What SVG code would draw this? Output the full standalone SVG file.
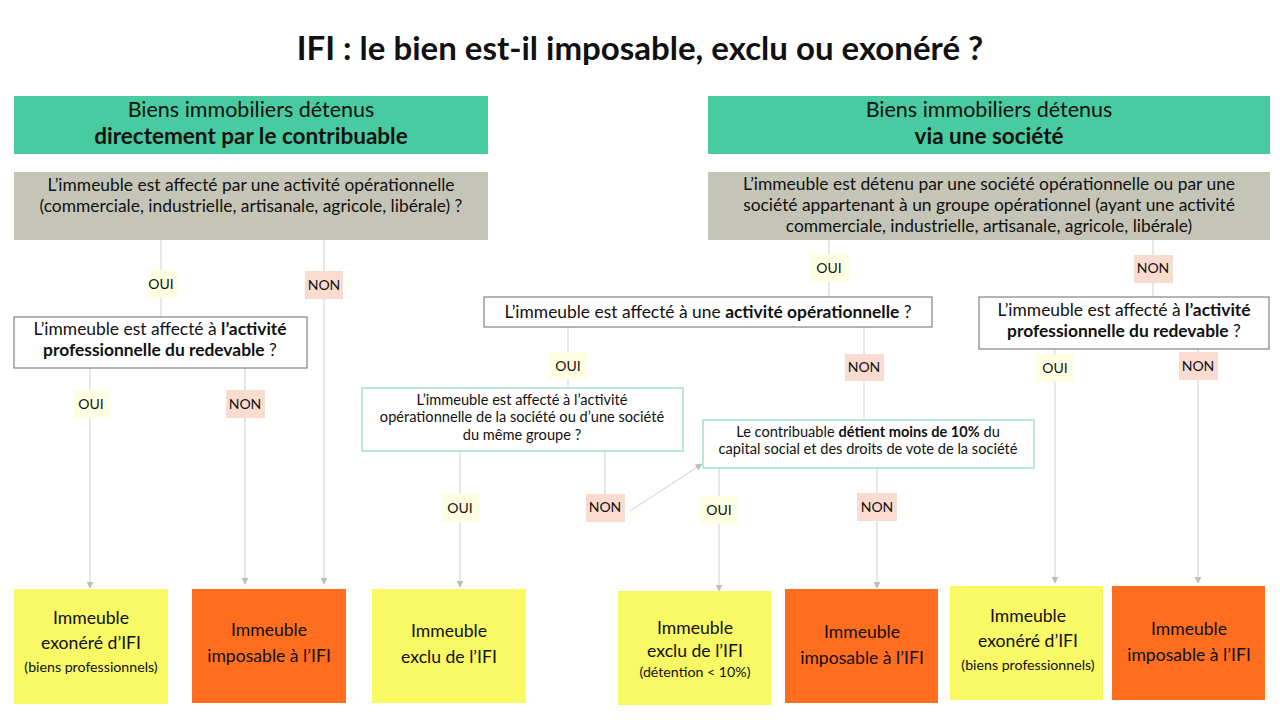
<svg xmlns="http://www.w3.org/2000/svg" width="1280" height="720" viewBox="0 0 1280 720">
<defs>
<marker id="arr" viewBox="0 0 10 10" refX="9" refY="5" markerWidth="7" markerHeight="7" orient="auto" markerUnits="userSpaceOnUse">
<path d="M0,0 L10,5 L0,10 z" fill="#bdbdbd"/>
</marker>
<style>
text{font-family:"Lato","Noto Sans",sans-serif;fill:#111;text-anchor:middle}
.title{font-size:33px;font-weight:700}
.hdr{fill:#48CBA0}
.gray{fill:#C5C5B7}
.h1{font-size:21.5px}
.h1b{font-size:22.5px;font-weight:700}
.b{font-weight:700}
.q{font-size:17.4px}
.qs{font-size:14.6px}
.qbox{fill:#fff;stroke:#6b6b6b;stroke-width:1}
.tbox{fill:#fff;stroke:#8fd9c2;stroke-width:1.2}
.yel{fill:#F9F865}
.ora{fill:#FF6E1F}
.res{font-size:17.6px}
.sm{font-size:14.2px}
.oui{fill:#FEFEE2}
.non{fill:#FADBD0}
.lbl{font-size:14px}
.ln{stroke:#cfcfcf;stroke-width:1;fill:none}
.la{stroke:#cfcfcf;stroke-width:1;fill:none;marker-end:url(#arr)}
</style>
</defs>
<rect width="1280" height="720" fill="#fff"/>
<text class="title" x="640" y="60">IFI : le bien est-il imposable, exclu ou exonéré ?</text>

<g id="connectors">
<line class="ln" x1="161" y1="240" x2="161" y2="317"/>
<line class="la" x1="324" y1="240" x2="324" y2="584"/>
<line class="la" x1="90" y1="368" x2="90" y2="588"/>
<line class="la" x1="245" y1="368" x2="245" y2="584"/>
<line class="ln" x1="829" y1="240" x2="829" y2="297"/>
<line class="ln" x1="1153" y1="240" x2="1153" y2="297"/>
<line class="ln" x1="568" y1="327" x2="568" y2="388"/>
<line class="ln" x1="864" y1="327" x2="864" y2="420"/>
<line class="la" x1="460" y1="451" x2="460" y2="587"/>
<line class="ln" x1="605" y1="451" x2="605" y2="494"/>
<line class="la" x1="630" y1="511" x2="702" y2="464"/>
<line class="la" x1="719" y1="468" x2="719" y2="591"/>
<line class="la" x1="877" y1="468" x2="877" y2="588"/>
<line class="la" x1="1055" y1="349" x2="1055" y2="583"/>
<line class="la" x1="1198" y1="349" x2="1198" y2="583"/>
</g>

<g id="hdr-left">
<rect class="hdr" x="14" y="96" width="474" height="58"/>
<text class="h1" x="251" y="117">Biens immobiliers détenus</text>
<text class="h1b" x="251" y="144">directement par le contribuable</text>
</g>
<g id="hdr-right">
<rect class="hdr" x="708" y="96" width="562" height="58"/>
<text class="h1" x="989" y="117">Biens immobiliers détenus</text>
<text class="h1b" x="989" y="144">via une société</text>
</g>

<g id="q-left-main">
<rect class="gray" x="14" y="172" width="474" height="68"/>
<text class="q" x="251" y="191">L’immeuble est affecté par une activité opérationnelle</text>
<text class="q" x="251" y="212">(commerciale, industrielle, artisanale, agricole, libérale) ?</text>
</g>
<g id="q-right-main">
<rect class="gray" x="708" y="172" width="562" height="68"/>
<text class="q" x="989" y="190">L’immeuble est détenu par une société opérationnelle ou par une</text>
<text class="q" x="989" y="211">société appartenant à un groupe opérationnel (ayant une activité</text>
<text class="q" x="989" y="232">commerciale, industrielle, artisanale, agricole, libérale)</text>
</g>

<g id="q-left-pro">
<rect class="qbox" x="14" y="317" width="293" height="51"/>
<text class="q" x="160" y="335">L’immeuble est affecté à <tspan class="b">l’activité</tspan></text>
<text class="q" x="160" y="356"><tspan class="b">professionnelle du redevable</tspan> ?</text>
</g>
<g id="q-mid-op">
<rect class="qbox" x="484" y="297" width="448" height="30"/>
<text class="q" x="708" y="318">L’immeuble est affecté à une <tspan class="b">activité opérationnelle</tspan> ?</text>
</g>
<g id="q-right-pro">
<rect class="qbox" x="979" y="297" width="290" height="52"/>
<text class="q" x="1124" y="316">L’immeuble est affecté à <tspan class="b">l’activité</tspan></text>
<text class="q" x="1124" y="337"><tspan class="b">professionnelle du redevable</tspan> ?</text>
</g>
<g id="q-group">
<rect class="tbox" x="362" y="388" width="321" height="63"/>
<text class="qs" x="522" y="405">L’immeuble est affecté à l’activité</text>
<text class="qs" x="522" y="422">opérationnelle de la société ou d’une société</text>
<text class="qs" x="522" y="440">du même groupe ?</text>
</g>
<g id="q-10">
<rect class="tbox" x="703" y="420" width="331" height="48"/>
<text class="qs" x="868" y="437">Le contribuable <tspan class="b">détient moins de 10%</tspan> du</text>
<text class="qs" x="868" y="454">capital social et des droits de vote de la société</text>
</g>

<g id="labels">
<rect class="oui" x="147" y="270" width="30" height="28"/><text class="lbl" x="161" y="289">OUI</text>
<rect class="non" x="305" y="271" width="38" height="28"/><text class="lbl" x="324" y="290">NON</text>
<rect class="oui" x="73" y="390" width="36" height="28"/><text class="lbl" x="91" y="409">OUI</text>
<rect class="non" x="226" y="390" width="39" height="28"/><text class="lbl" x="245" y="409">NON</text>
<rect class="oui" x="810" y="254" width="39" height="28"/><text class="lbl" x="829" y="273">OUI</text>
<rect class="non" x="1134" y="255" width="39" height="28"/><text class="lbl" x="1153" y="273">NON</text>
<rect class="oui" x="549" y="352" width="38" height="27"/><text class="lbl" x="568" y="371">OUI</text>
<rect class="non" x="845" y="354" width="39" height="27"/><text class="lbl" x="864" y="372">NON</text>
<rect class="oui" x="1036" y="354" width="38" height="28"/><text class="lbl" x="1055" y="373">OUI</text>
<rect class="non" x="1179" y="352" width="39" height="28"/><text class="lbl" x="1198" y="371">NON</text>
<rect class="oui" x="441" y="494" width="38" height="28"/><text class="lbl" x="460" y="513">OUI</text>
<rect class="non" x="586" y="494" width="39" height="28"/><text class="lbl" x="605" y="512">NON</text>
<rect class="oui" x="700" y="496" width="38" height="28"/><text class="lbl" x="719" y="515">OUI</text>
<rect class="non" x="857" y="493" width="40" height="28"/><text class="lbl" x="877" y="512">NON</text>
</g>

<g id="r1">
<rect class="yel" x="14" y="589" width="154" height="115"/>
<text class="res" x="91" y="624">Immeuble</text>
<text class="res" x="91" y="649">exonéré d’IFI</text>
<text class="sm" x="91" y="672">(biens professionnels)</text>
</g>
<g id="r2">
<rect class="ora" x="192" y="589" width="154" height="114"/>
<text class="res" x="269" y="636">Immeuble</text>
<text class="res" x="269" y="662">imposable à l’IFI</text>
</g>
<g id="r3">
<rect class="yel" x="372" y="589" width="154" height="114"/>
<text class="res" x="449" y="637">Immeuble</text>
<text class="res" x="449" y="663">exclu de l’IFI</text>
</g>
<g id="r4">
<rect class="yel" x="618" y="591" width="153" height="114"/>
<text class="res" x="695" y="634">Immeuble</text>
<text class="res" x="695" y="657">exclu de l’IFI</text>
<text class="sm" x="695" y="677">(détention &lt; 10%)</text>
</g>
<g id="r5">
<rect class="ora" x="785" y="589" width="153" height="114"/>
<text class="res" x="862" y="638">Immeuble</text>
<text class="res" x="862" y="664">imposable à l’IFI</text>
</g>
<g id="r6">
<rect class="yel" x="950" y="586" width="153" height="114"/>
<text class="res" x="1028" y="622">Immeuble</text>
<text class="res" x="1028" y="647">exonéré d’IFI</text>
<text class="sm" x="1028" y="670">(biens professionnels)</text>
</g>
<g id="r7">
<rect class="ora" x="1112" y="586" width="153" height="114"/>
<text class="res" x="1189" y="635">Immeuble</text>
<text class="res" x="1189" y="661">imposable à l’IFI</text>
</g>
</svg>
